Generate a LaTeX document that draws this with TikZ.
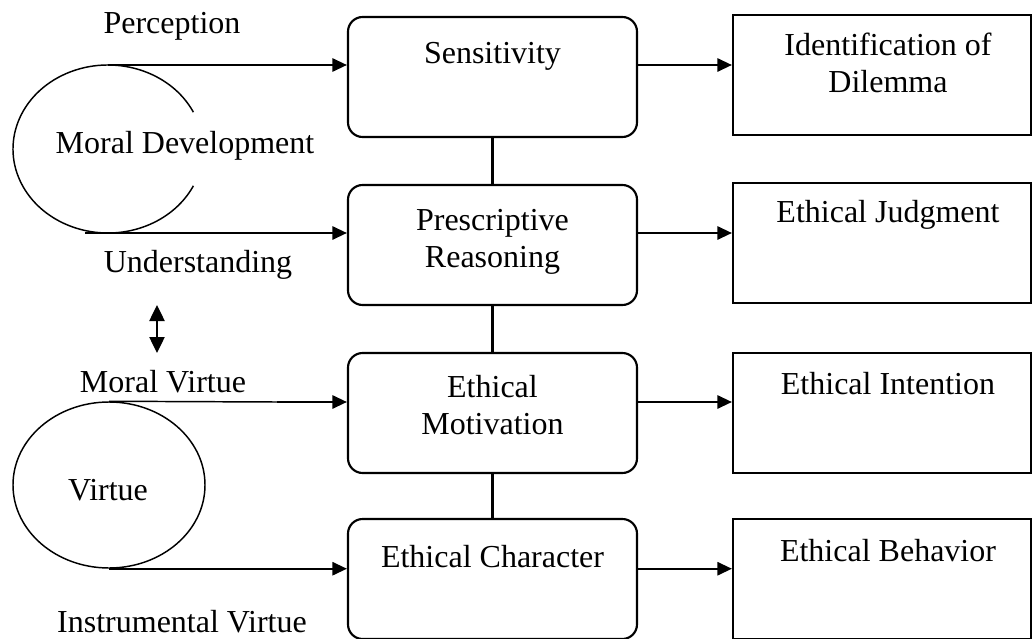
\documentclass[tikz,border=0pt]{standalone}
\usepackage{fontspec}
\setmainfont{Liberation Serif}
\usetikzlibrary{arrows.meta,shapes.geometric}
\tikzset{every picture/.style={line width=0.75pt}}

\begin{document}
\begin{tikzpicture}[x=0.75pt,y=0.75pt,yscale=-1,xscale=1,
  font=\fontsize{24}{27.6}\selectfont,
  rbox/.style={draw,line width=1.6pt,rounded corners=11pt,minimum width=216.75pt,minimum height=90pt,inner sep=0pt},
  sbox/.style={draw,line width=1.6pt,minimum width=223.5pt,minimum height=90pt,inner sep=0pt},
  lbl/.style={anchor=base,inner sep=0pt,align=center},
  arr/.style={line width=1.6pt,-{Triangle[length=11pt,width=10pt]}},
  dbl/.style={line width=1pt,{Triangle[length=12pt,width=11.5pt]}-{Triangle[length=12pt,width=11.5pt]}},
  link/.style={line width=1.6pt},
  oval/.style={line width=1.1pt}]
\useasboundingbox (0,0) rectangle (1032,639);

%Rounded Rect
\node[rbox] (sens) at (492.5,77) {};
\node[rbox] (presc) at (492.5,245) {};
\node[rbox] (motiv) at (492.5,413) {};
\node[rbox] (charac) at (492.5,579) {};
%Shape: Rectangle
\node[sbox] (ident) at (882,75) {};
\node[sbox] (judg) at (882,243) {};
\node[sbox] (inten) at (882,413) {};
\node[sbox] (behav) at (882,579) {};
%Shape: Ellipse
\node[draw,ellipse,oval,minimum width=144pt,minimum height=124.5pt,inner sep=0pt] (virt) at (109,485) {};
%Shape: Arc
\coordinate (mdc) at (108,149);
\draw[oval] ([shift={(-26:95 and 84)}]mdc) arc[start angle=-26,end angle=-334,x radius=95,y radius=84];

\coordinate (p1) at (108,65);
\coordinate (p2) at (85,233);
\coordinate (mv) at (277,402);
\coordinate (da) at (157,305);
\coordinate (db) at (157,353);

%Straight Lines
\draw[arr] (p1) -- (p1 -| sens.west);
\draw[arr] (p2) -- (p2 -| presc.west);
\draw[oval] (virt.north) -- (mv);
\draw[arr] (mv) -- (mv -| motiv.west);
\draw[arr] (virt.south) -- (virt.south -| charac.west);
\draw[arr] (p1 -| sens.east) -- (p1 -| ident.west);
\draw[arr] (p2 -| presc.east) -- (p2 -| judg.west);
\draw[arr] (mv -| motiv.east) -- (mv -| inten.west);
\draw[arr] (virt.south -| charac.east) -- (virt.south -| behav.west);
\draw[link] (sens) -- (presc);
\draw[link] (presc) -- (motiv);
\draw[link] (motiv) -- (charac);
\draw[dbl] (da) -- (db);

% Text Node
\node[lbl] (senstxt) at (492.5,63) {Sensitivity};
\node[lbl] (presctxt) at (492.5,267) {Prescriptive\\Reasoning};
\node[lbl] (motivtxt) at (492.5,434) {Ethical\\Motivation};
\node[lbl] (charactxt) at (492.5,567) {Ethical Character};
\node[lbl] (identtxt) at (888,92) {Identification of\\Dilemma};
\node[lbl] (judgtxt) at (888,222) {Ethical Judgment};
\node[lbl] (intentxt) at (888,394) {Ethical Intention};
\node[lbl] (behavtxt) at (888,561) {Ethical Behavior};
\node[lbl] (perctxt) at (172,33) {Perception};
\node[lbl] (mdtxt) at (185,153) {Moral Development};
\node[lbl] (undtxt) at (198,272) {Understanding};
\node[lbl] (mvtxt) at (163,392) {Moral Virtue};
\node[lbl] (virttxt) at (108,500) {Virtue};
\node[lbl] (ivtxt) at (182,632) {Instrumental Virtue};

\end{tikzpicture}
\end{document}
